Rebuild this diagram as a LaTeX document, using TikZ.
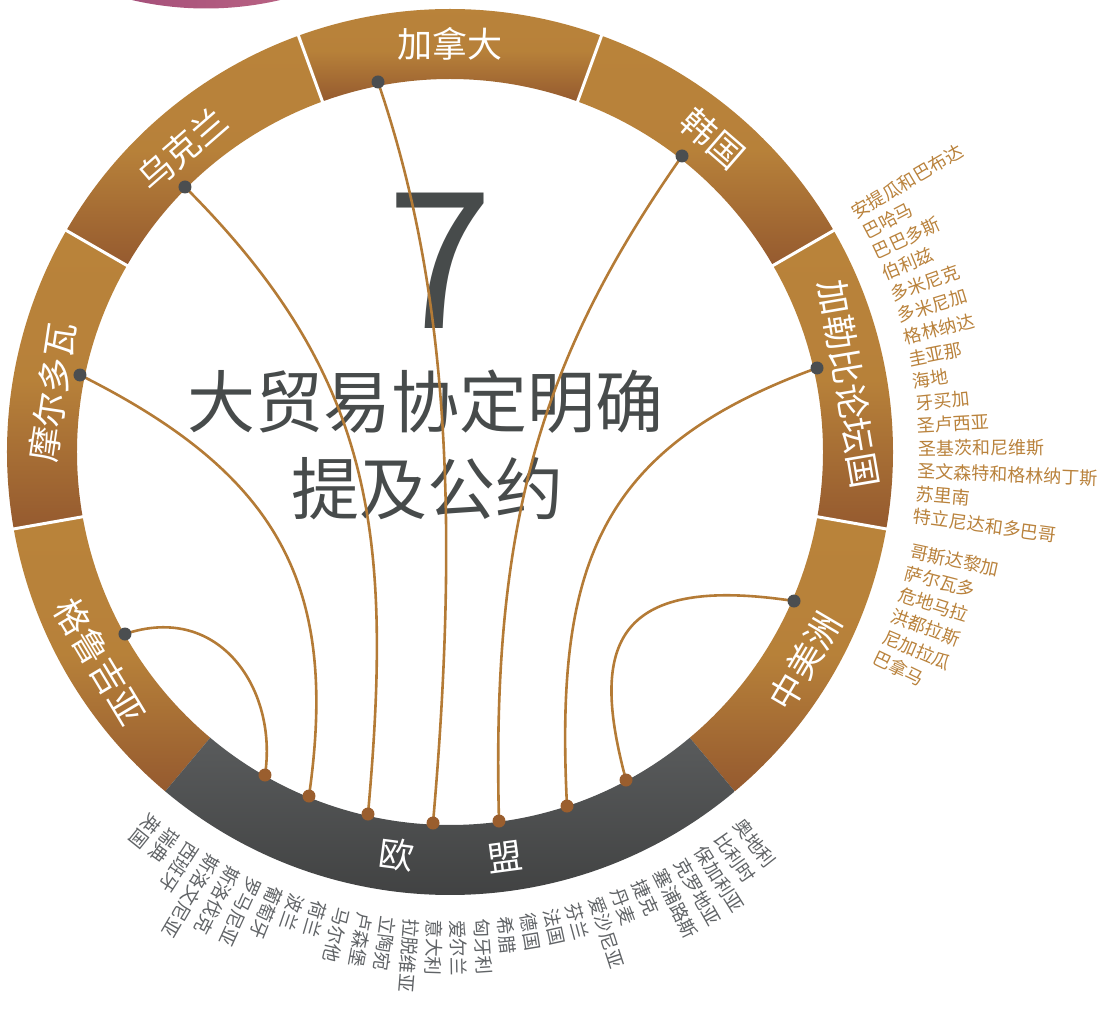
\documentclass[tikz,border=0pt]{standalone}
\usepackage{fontspec}
\newfontfamily\cjk{Noto Sans CJK SC}

\definecolor{goldA}{HTML}{B9833A}
\definecolor{goldB}{HTML}{955A2F}
\definecolor{euA}{HTML}{595B5C}
\definecolor{euB}{HTML}{3C3D3D}
\definecolor{inkgray}{HTML}{474B4B}
\definecolor{linkgold}{HTML}{B47B36}
\definecolor{dotgray}{HTML}{4B4E50}
\definecolor{dotbrown}{HTML}{9A5E2E}
\definecolor{listgold}{HTML}{B9823C}
\definecolor{listgray}{HTML}{606366}
\definecolor{plumA}{HTML}{A5507A}
\definecolor{plumB}{HTML}{B86182}

\begin{document}
\begin{tikzpicture}[x=1pt, y=1pt,
    seglabel/.style={text=white, font=\cjk\fontsize{35}{40}\selectfont, inner sep=0pt},
    member/.style={anchor=west, inner sep=0pt},
    treaty/.style={draw=linkgold, line width=2.6pt},
    cdot/.style={circle, fill=dotgray, minimum size=13pt, inner sep=0pt},
    edot/.style={circle, fill=dotbrown, minimum size=13pt, inner sep=0pt},
    divider/.style={white, line width=3pt}]

    \useasboundingbox (-450,-565) rectangle (665,452);

    % Edge of the neighbouring ring, cut by the top border
    \begin{scope}
        \clip (-244,769.5) circle (326);
        \shade[left color=plumA, right color=plumB] (-322,430) rectangle (-166,452);
    \end{scope}

    % Ring segments
    \foreach \a/\b in {110/150, 70/110, 30/70, -10/30, -50/-10, 190/230, 150/190}
        \shade[top color=goldA, bottom color=goldB, middle color=goldA!95!goldB]
            (\a:443) arc[start angle=\a, end angle=\b, radius=443]
            -- (\b:373) arc[start angle=\b, end angle=\a, radius=373] -- cycle;
    \shade[top color=euA, bottom color=euB]
        (230:443) arc[start angle=230, end angle=310, radius=443]
        -- (310:373) arc[start angle=310, end angle=230, radius=373] -- cycle;
    \foreach \a in {150,110,70,30,-10,190}
        \draw[divider] (\a:371) -- (\a:445);

    % Segment labels
    \node[seglabel] (canlab) at (90:408) {加拿大};
    \node[seglabel, rotate=-41] (korlab) at (50:409) {韩国};
    \node[seglabel, rotate=41] (ukrlab) at (131.5:404) {乌克兰};
    \node[seglabel, rotate=81.5] (mdalab) at (171.5:402) {摩尔多瓦};
    \node[seglabel, rotate=-59] (geolab) at (211:408) {格鲁吉亚};
    \node[seglabel, rotate=-80.3] (carlab) at (9.7:405) {加勒比论坛国};
    \node[seglabel, rotate=59.5] (camlab) at (-30.5:412) {中美洲};
    \node[seglabel, rotate=-7.5] (eulabA) at (-97.5:406) {欧};
    \node[seglabel, rotate=7.7] (eulabB) at (-82.3:409) {盟};

    % Centre text
    \node[text=inkgray, font=\cjk\fontsize{190}{190}\selectfont, inner sep=0pt] (seven) at (-10,191) {7};
    \node[text=inkgray, font=\cjk\fontsize{68}{68}\selectfont, inner sep=0pt] (headA) at (-24,50) {大贸易协定明确};
    \node[text=inkgray, font=\cjk\fontsize{68}{68}\selectfont, inner sep=0pt] (headB) at (-22,-37) {提及公约};

    % Anchor points on the inner edge
    \coordinate (can) at (-72,370);
    \coordinate (kor) at (232,296);
    \coordinate (ukr) at (-265,265);
    \coordinate (mda) at (-370,77);
    \coordinate (geo) at (-325,-182);
    \coordinate (car) at (367,84);
    \coordinate (cam) at (344,-149);
    \coordinate (e1) at (-185,-323);
    \coordinate (e2) at (-141,-344);
    \coordinate (e3) at (-82,-362);
    \coordinate (e4) at (-17,-371);
    \coordinate (e5) at (49,-369);
    \coordinate (e6) at (117,-354);
    \coordinate (e7) at (176,-328);

    % Agreements with the EU
    \draw[treaty] (geo) .. controls +(95,32) and +(13,85) .. (e1);
    \draw[treaty] (mda) .. controls +(200,-100) and +(30,210) .. (e2);
    \draw[treaty] (ukr) .. controls +(190,-190) and +(25,280) .. (e3);
    \draw[treaty] (can) .. controls +(65,-190) and +(29,330) .. (e4);
    \draw[treaty] (kor) .. controls +(-140,-200) and +(-8,300) .. (e5);
    \draw[treaty] (car) .. controls +(-220,-80) and +(-12,240) .. (e6);
    \draw[treaty] (cam) .. controls +(-185,28) and +(-35,130) .. (e7);

    \foreach \c in {can,kor,ukr,mda,geo,car,cam}
        \node[cdot] (\c-dot) at (\c) {};
    \foreach \c in {e1,e2,e3,e4,e5,e6,e7}
        \node[edot] (\c-dot) at (\c) {};

    % Member lists
    \foreach \name [count=\i from 0] in {安提瓜和巴布达,巴哈马,巴巴多斯,伯利兹,多米尼克,多米尼加,格林纳达,圭亚那,海地,牙买加,圣卢西亚,圣基茨和尼维斯,圣文森特和格林纳丁斯,苏里南,特立尼达和多巴哥}
        \node[member, text=listgold, font=\cjk\fontsize{18}{20}\selectfont, rotate={30.6-2.743*\i}] (carm\i) at ({30.6-2.743*\i}:468) {\name};
    \foreach \name [count=\i from 0] in {哥斯达黎加,萨尔瓦多,危地马拉,洪都拉斯,尼加拉瓜,巴拿马}
        \node[member, text=listgold, font=\cjk\fontsize{18}{20}\selectfont, rotate={-12.1-2.72*\i}] (camm\i) at ({-12.1-2.72*\i}:471) {\name};
    \foreach \name [count=\i from 0] in {奥地利,比利时,保加利亚,克罗地亚,塞浦路斯,捷克,丹麦,爱沙尼亚,芬兰,法国,德国,希腊,匈牙利,爱尔兰,意大利,拉脱维亚,立陶宛,卢森堡,马尔他,荷兰,波兰,葡萄牙,罗马尼亚,斯洛伐克,斯洛文尼亚,西班牙,瑞典,英国}
        \node[member, text=listgray, font=\cjk\fontsize{18.5}{20}\selectfont, rotate={-52.1-2.84*\i}] (eum\i) at ({-52.1-2.84*\i}:468) {\name};
\end{tikzpicture}
\end{document}
